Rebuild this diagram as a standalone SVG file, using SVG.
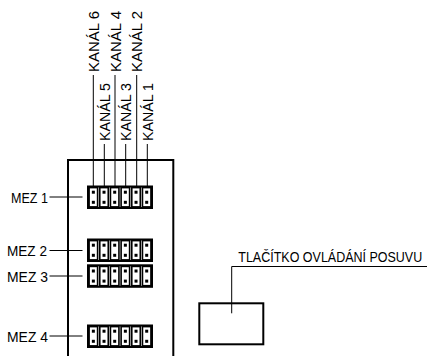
<svg xmlns="http://www.w3.org/2000/svg" width="427" height="356" viewBox="0 0 427 356">
<style>
text{font-family:"Liberation Sans",Arial,sans-serif;font-size:15px;fill:#000}
.ln{stroke:#000;stroke-width:1;fill:none}
.th{stroke:#000;stroke-width:2;fill:none}
.cell{stroke:#000;stroke-width:1.6;fill:#fff}
.dot{fill:#000}
</style>
<defs>
<g id="conn">
<rect x="0" y="0" width="64" height="21.5" class="th"/>
<rect x="1.1" y="1.1" width="8.5" height="19.3" class="cell"/>
<rect x="11.77" y="1.1" width="8.5" height="19.3" class="cell"/>
<rect x="22.44" y="1.1" width="8.5" height="19.3" class="cell"/>
<rect x="33.11" y="1.1" width="8.5" height="19.3" class="cell"/>
<rect x="43.78" y="1.1" width="8.5" height="19.3" class="cell"/>
<rect x="54.45" y="1.1" width="8.5" height="19.3" class="cell"/>
<g class="dot">
<rect x="3.85" y="4.2" width="3" height="3"/><rect x="3.85" y="14.3" width="3" height="3"/>
<rect x="14.52" y="4.2" width="3" height="3"/><rect x="14.52" y="14.3" width="3" height="3"/>
<rect x="25.19" y="4.2" width="3" height="3"/><rect x="25.19" y="14.3" width="3" height="3"/>
<rect x="35.86" y="4.2" width="3" height="3"/><rect x="35.86" y="14.3" width="3" height="3"/>
<rect x="46.53" y="4.2" width="3" height="3"/><rect x="46.53" y="14.3" width="3" height="3"/>
<rect x="57.2" y="4.2" width="3" height="3"/><rect x="57.2" y="14.3" width="3" height="3"/>
</g>
</g>
</defs>

<g id="board">
<path class="th" d="M68,357 V160 H173.3 V357"/>
</g>

<g id="mez1"><use href="#conn" x="88" y="186.5"/><text x="48" y="202.5" text-anchor="end" textLength="37" lengthAdjust="spacingAndGlyphs">MEZ 1</text></g>
<g id="mez2"><use href="#conn" x="88" y="239.5"/><text x="47" y="256" text-anchor="end" textLength="40" lengthAdjust="spacingAndGlyphs">MEZ 2</text></g>
<g id="mez3"><use href="#conn" x="88" y="265.3"/><text x="48" y="281.5" text-anchor="end" textLength="41" lengthAdjust="spacingAndGlyphs">MEZ 3</text></g>
<g id="mez4"><use href="#conn" x="88" y="325.5"/><text x="48" y="341.5" text-anchor="end" textLength="41" lengthAdjust="spacingAndGlyphs">MEZ 4</text></g>

<g id="kanal6"><text transform="translate(98.8,72) rotate(-90)" textLength="61" lengthAdjust="spacingAndGlyphs">KANÁL 6</text></g>
<g id="kanal5"><text transform="translate(109.8,141) rotate(-90)" textLength="58" lengthAdjust="spacingAndGlyphs">KANÁL 5</text></g>
<g id="kanal4"><text transform="translate(120.5,72) rotate(-90)" textLength="61" lengthAdjust="spacingAndGlyphs">KANÁL 4</text></g>
<g id="kanal3"><text transform="translate(131.2,141) rotate(-90)" textLength="58" lengthAdjust="spacingAndGlyphs">KANÁL 3</text></g>
<g id="kanal2"><text transform="translate(142.2,72) rotate(-90)" textLength="61" lengthAdjust="spacingAndGlyphs">KANÁL 2</text></g>
<g id="kanal1"><text transform="translate(152.8,141) rotate(-90)" textLength="58" lengthAdjust="spacingAndGlyphs">KANÁL 1</text></g>

<g id="button">
<rect x="199.3" y="303.3" width="64" height="41" class="th"/>
<text transform="translate(238.3,261.8) scale(0.833,1)">TLAČÍTKO OVLÁDÁNÍ POSUVU</text>
</g>

<g id="connectors" class="ln">
<line x1="93.3" y1="75" x2="93.3" y2="186.5"/>
<line x1="104.3" y1="144" x2="104.3" y2="186.5"/>
<line x1="115" y1="75" x2="115" y2="186.5"/>
<line x1="125.7" y1="144" x2="125.7" y2="186.5"/>
<line x1="136.7" y1="75" x2="136.7" y2="186.5"/>
<line x1="147.3" y1="144" x2="147.3" y2="186.5"/>
<line x1="49.5" y1="197" x2="82.5" y2="197"/>
<line x1="49.5" y1="250.5" x2="82.5" y2="250.5"/>
<line x1="49.5" y1="276" x2="82.5" y2="276"/>
<line x1="49.5" y1="336" x2="82.5" y2="336"/>
<polyline points="231.7,313.3 231.7,266.5 427,266.5"/>
</g>
</svg>
